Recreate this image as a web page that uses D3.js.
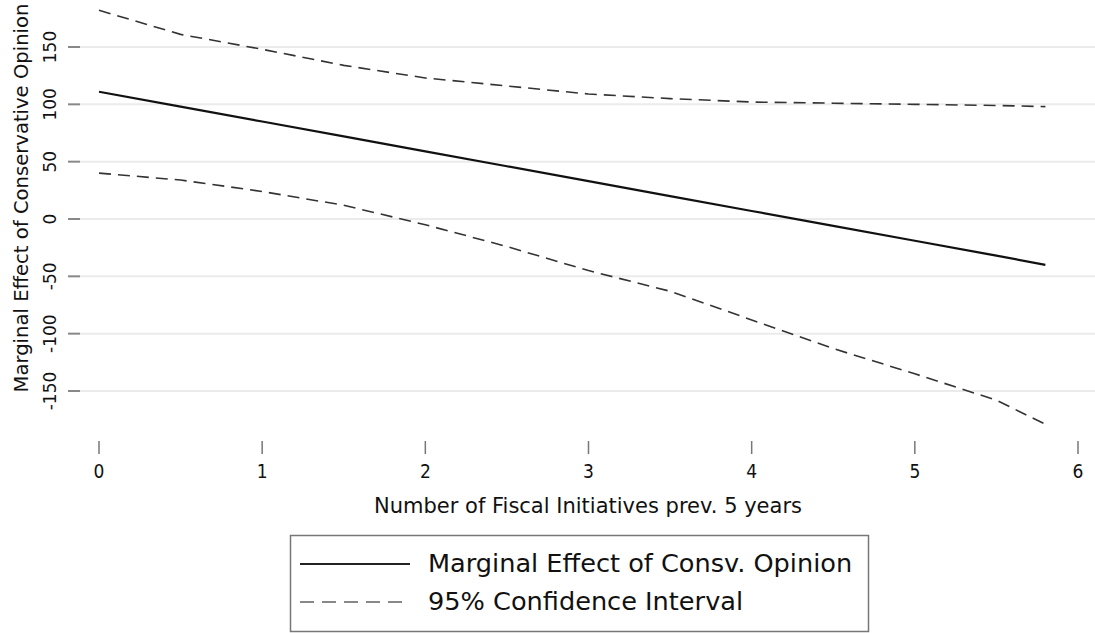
<!DOCTYPE html>
<meta charset="utf-8">
<style>
  body { margin: 0; background: #fff; }
  svg text { font-family: 'DejaVu Sans', 'Liberation Sans', sans-serif; fill: #111; }
  .grid line { stroke: #ebebeb; stroke-width: 2; }
  .mean { fill: none; stroke: #111; stroke-width: 2.2; }
  .ci { fill: none; stroke: #333; stroke-width: 1.6; stroke-dasharray: 12 7; }
</style>
<body>
<div id="chart"></div>
<script src="https://d3js.org/d3.v7.min.js"></script>
<script>
var width = 1095;
var height = 633;

// x values (number of initiatives) and the three estimated series
var xs = [0, 0.5, 1, 1.5, 2, 2.5, 3, 3.5, 4, 4.5, 5, 5.5, 5.8];
var effect = [111, 98, 85, 72, 59, 46, 33, 20, 7, -6, -19, -32, -40];
var upper = [182, 161, 148, 134, 123, 116, 109, 105, 102, 101, 100, 99, 98];
var lower = [40, 34, 24, 12, -5, -24, -45, -63, -88, -113, -135, -158, -179];

var yTicks = [-150, -100, -50, 0, 50, 100, 150];
var xTicks = [0, 1, 2, 3, 4, 5, 6];

var legendLabels = ['Marginal Effect of Consv. Opinion', '95% Confidence Interval'];

var x = d3.scaleLinear().domain([0, 6]).range([99, 1078]);
var y = d3.scaleLinear().domain([-150, 150]).range([391, 47]);

var svg = d3.select('#chart').append('svg')
    .attr('width', width)
    .attr('height', height);

// gridlines
svg.append('g')
    .attr('class', 'grid')
  .selectAll('line')
    .data(yTicks)
    .enter().append('line')
    .attr('x1', 80)
    .attr('x2', width)
    .attr('y1', function (d) { return y(d); })
    .attr('y2', function (d) { return y(d); });

// y axis ticks + rotated labels
var yAxis = svg.append('g');
yAxis.selectAll('line')
    .data(yTicks)
    .enter().append('line')
    .attr('x1', 68)
    .attr('x2', 80)
    .attr('y1', function (d) { return y(d); })
    .attr('y2', function (d) { return y(d); })
    .attr('stroke', '#888')
    .attr('stroke-width', 2);
yAxis.selectAll('text')
    .data(yTicks)
    .enter().append('text')
    .attr('transform', function (d) { return 'translate(56,' + y(d) + ') rotate(-90)'; })
    .attr('text-anchor', 'middle')
    .style('font-size', '17px')
    .text(function (d) { return d; });

svg.append('text')
    .attr('transform', 'translate(28,198) rotate(-90)')
    .attr('text-anchor', 'middle')
    .style('font-size', '19.6px')
    .text('Marginal Effect of Conservative Opinion');

// x axis ticks + labels
var xAxis = svg.append('g');
xAxis.selectAll('line')
    .data(xTicks)
    .enter().append('line')
    .attr('x1', function (d) { return x(d); })
    .attr('x2', function (d) { return x(d); })
    .attr('y1', 441)
    .attr('y2', 454)
    .attr('stroke', '#777')
    .attr('stroke-width', 1.5);
xAxis.selectAll('text')
    .data(xTicks)
    .enter().append('text')
    .attr('x', function (d) { return x(d); })
    .attr('y', 478)
    .attr('text-anchor', 'middle')
    .style('font-family', "'DejaVu Sans Condensed', 'DejaVu Sans', sans-serif")
    .style('font-size', '19px')
    .text(function (d) { return d; });

svg.append('text')
    .attr('x', 588)
    .attr('y', 513)
    .attr('text-anchor', 'middle')
    .style('font-size', '21px')
    .text('Number of Fiscal Initiatives prev. 5 years');

// series
var line = d3.line()
    .x(function (d) { return x(d[0]); })
    .y(function (d) { return y(d[1]); });

svg.append('path').attr('class', 'ci').attr('d', line(d3.zip(xs, upper)));
svg.append('path').attr('class', 'ci').attr('d', line(d3.zip(xs, lower)));
svg.append('path').attr('class', 'mean').attr('d', line(d3.zip(xs, effect)));

// legend
var lg = svg.append('g');
lg.append('rect')
    .attr('x', 290.5)
    .attr('y', 535.5)
    .attr('width', 578)
    .attr('height', 96)
    .attr('fill', '#fff')
    .attr('stroke', '#777')
    .attr('stroke-width', 1.5);

lg.selectAll('line')
    .data(legendLabels)
    .enter().append('line')
    .attr('x1', 300)
    .attr('x2', 410)
    .attr('y1', function (d, i) { return 564 + i * 38; })
    .attr('y2', function (d, i) { return 564 + i * 38; })
    .attr('stroke', function (d, i) { return i ? '#888' : '#222'; })
    .attr('stroke-width', 2)
    .attr('stroke-dasharray', function (d, i) { return i ? '14 8' : null; });

lg.selectAll('text')
    .data(legendLabels)
    .enter().append('text')
    .attr('x', 428)
    .attr('y', function (d, i) { return 572 + i * 38; })
    .style('font-size', '25.6px')
    .text(function (d) { return d; });
</script>
</body>
